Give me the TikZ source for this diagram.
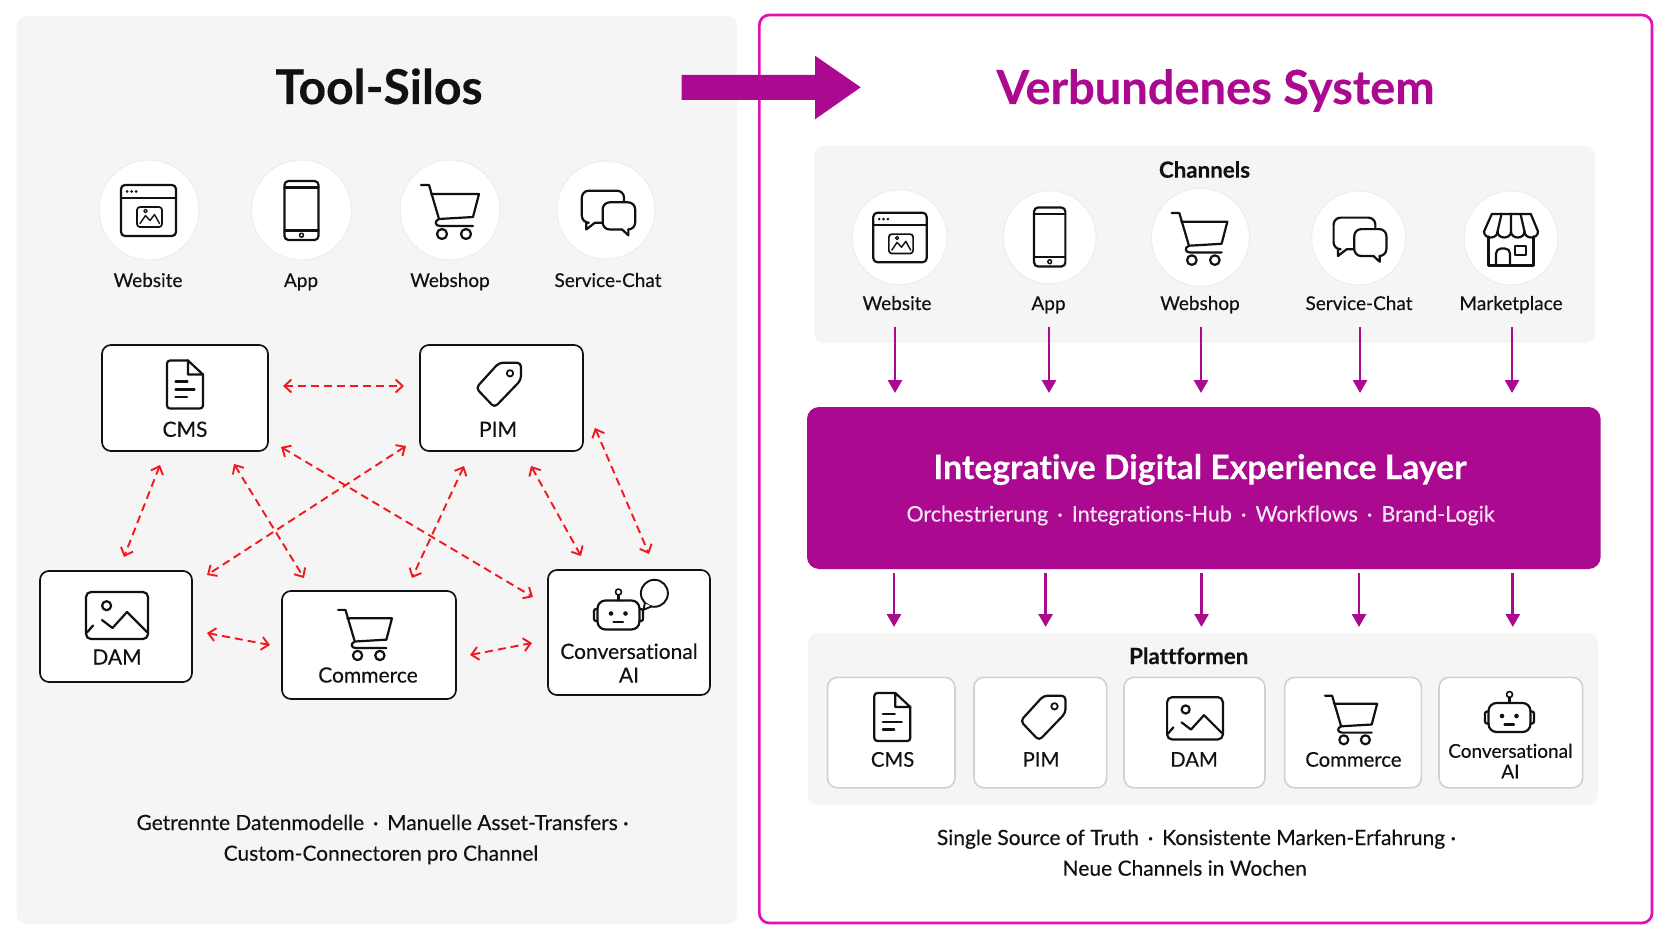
\documentclass[tikz,border=0pt]{standalone}
\usepackage{fontspec}
\setmainfont{Lato}[FakeBold=0.3,Ligatures=NoCommon]
\usepackage{tikz}
\usetikzlibrary{positioning,arrows.meta}
\definecolor{berry}{HTML}{AB0990}
\definecolor{framepink}{HTML}{E010B4}
\definecolor{panelgray}{HTML}{F5F5F6}
\definecolor{ringgray}{HTML}{EDEDEF}
\definecolor{ink}{HTML}{111114}
\definecolor{linkred}{HTML}{F01A1E}
\tikzstyle{panel} = [rectangle, fill=panelgray, rounded corners=10, inner sep=0, outer sep=0]
\tikzstyle{outline} = [rectangle, draw=framepink, line width=2.7, rounded corners=10, inner sep=0, outer sep=0]
\tikzstyle{layerbox} = [rectangle, fill=berry, rounded corners=12, inner sep=0, outer sep=0]
\tikzstyle{round} = [circle, fill=white, draw=ringgray, line width=1, inner sep=0, outer sep=0]
\tikzstyle{toolbox} = [rectangle, fill=white, draw=ink, line width=1.7, rounded corners=9, inner sep=0, outer sep=0]
\tikzstyle{platbox} = [rectangle, fill=white, draw=black!18, line width=1.6, rounded corners=10, inner sep=0, outer sep=0]
\tikzstyle{bigtitle} = [anchor=base, inner sep=0, font=\fontsize{47}{52}\selectfont\bfseries]
\tikzstyle{subhead} = [anchor=base, inner sep=0, text=ink, font=\fontsize{22.3}{26}\selectfont\bfseries]
\tikzstyle{itemtext} = [anchor=base, inner sep=0, text=ink, font=\fontsize{19}{24}\selectfont]
\tikzstyle{platlabel} = [anchor=base, inner sep=0, text=ink, font=\fontsize{20.3}{24}\selectfont]
\tikzstyle{boxtext} = [inner sep=0, text=ink, align=center, font=\fontsize{21}{23.7}\selectfont]
\tikzstyle{notetext} = [anchor=base, inner sep=0, text=ink, font=\fontsize{20.9}{26}\selectfont]
\tikzstyle{link} = [draw=linkred, line width=1.9, dash pattern=on 8 off 5, {Straight Barb[length=7,width=13]}-{Straight Barb[length=7,width=13]}]
\tikzstyle{flow} = [draw=berry, line width=2.8, -{Triangle[length=13,width=14]}]
\tikzstyle{iconline} = [draw=ink, line width=2.2, line join=round, line cap=round]
\tikzset{
	siteicon/.pic={
		\draw[iconline, rounded corners=4] (-27.5,-25.5) rectangle (27.5,25.5);
		\draw[iconline] (-27.5,-12.5) -- (27.5,-12.5);
		\fill[ink] (-21.5,-19) circle (1.5) (-17,-19) circle (1.5) (-12.5,-19) circle (1.5);
		\draw[iconline, line width=1.7, rounded corners=3] (-11.5,-3.5) rectangle (13.5,16.5);
		\draw[iconline, line width=1.4] (-8.5,13) -- (-3,5) -- (1.5,10) -- (6,4) -- (11,13);
		\draw[iconline, line width=1.2] (-3,0.5) circle (1.7);
	},
	phoneicon/.pic={
		\draw[iconline, rounded corners=4] (-17,-29.5) rectangle (17,29.5);
		\draw[iconline] (-17,-23) -- (17,-23) (-17,20) -- (17,20);
		\draw[iconline, line width=1.5] (0,24.7) circle (2);
	},
	carticon/.pic={
		\draw[iconline] (-29,-27) -- (-21,-27) -- (-11,7) (-19,-18) -- (29,-18) -- (23,5) -- (-11,7) .. controls (-16,9) and (-15,14) .. (-10,14) -- (23,14);
		\draw[iconline] (-8,22) circle (5) (16,22) circle (5);
	},
	chaticon/.pic={
		\draw[iconline, rounded corners=7] (-23,10) -- (-27.5,10) -- (-27.5,-23) -- (16,-23) -- (16,10) -- (-14,10);
		\draw[iconline] (-23,10) -- (-23,17) -- (-14,10);
		\draw[iconline, fill=white, rounded corners=7] (14,17) -- (-6,17) -- (-6,-11) -- (27.5,-11) -- (27.5,17) -- (20.5,17);
		\draw[iconline] (14,17) -- (20.5,23) -- (20.5,17);
	},
	storeicon/.pic={
		\draw[iconline] (-19.2,-25.5) -- (19.8,-25.5) -- (27,-8) .. controls (27,0) and (13.5,0) .. (13.5,-8) .. controls (13.5,0) and (0,0) .. (0,-8) .. controls (0,0) and (-13.5,0) .. (-13.5,-8) .. controls (-13.5,0) and (-27,0) .. (-27,-8) -- cycle;
		\draw[iconline] (-9.5,-25.5) -- (-13.5,-8) (0,-25.5) -- (0,-8) (9.5,-25.5) -- (13.5,-8);
		\draw[iconline] (-22.5,-3) -- (-22.5,26) -- (22.5,26) -- (22.5,-3);
		\draw[iconline, rounded corners=5] (-15,26) -- (-15,9) -- (-1,9) -- (-1,26);
		\draw[iconline] (4,6.5) rectangle (15,15.5);
	},
	docicon/.pic={
		\draw[iconline, rounded corners=3] (3,-24) -- (-18,-24) -- (-18,24) -- (18,24) -- (18,-10);
		\draw[iconline] (3,-24) -- (18,-10) (3,-24) -- (3,-10) -- (18,-10);
		\draw[iconline] (-9.5,-3) -- (2.5,-3) (-9.5,5) -- (9.5,5) (-9.5,12.5) -- (2,12.5);
	},
	tagicon/.pic={
		\draw[iconline, rounded corners=4] (1,-22.3) -- (23,-22.3) -- (23,-5) -- (-3.5,22.5) -- (-22,3) -- cycle;
		\draw[iconline, line width=1.8] (12,-11.7) circle (3.2);
	},
	imageicon/.pic={
		\draw[iconline, rounded corners=5] (-31,-23.5) rectangle (31,23.5);
		\draw[iconline] (-10.4,-9.8) circle (4.5);
		\draw[iconline] (-15,4.5) -- (-4.5,12.5) -- (10,-3.5) -- (30,16.5) (-30,17) -- (-24,10);
	},
	roboticon/.pic={
		\draw[iconline, rounded corners=8] (-21,-14.5) rectangle (21,14.5);
		\draw[iconline, rounded corners=2] (-21,-6) -- (-24.5,-6) -- (-24.5,6) -- (-21,6) (21,-6) -- (24.5,-6) -- (24.5,6) -- (21,6);
		\draw[iconline] (0,-14.5) -- (0,-20);
		\draw[iconline, line width=1.6] (0,-23) circle (3);
		\fill[ink] (-7.5,-1.5) circle (2.3) (7,-1.5) circle (2.3);
		\draw[iconline] (-5,7) -- (4.5,7);
	},
	speechicon/.pic={
		\draw[iconline, line width=1.9] (0,0) circle (13.5);
		\draw[iconline, line width=1.9, fill=white] (-9.5,10) -- (-11,16.5) -- (-3,13.2);
	}
}
\begin{document}
\begin{tikzpicture}[x=1pt, y=-1pt]
	\useasboundingbox (0,0) rectangle (1672,941);
	% left side
	\node[panel, minimum width=720.5, minimum height=908] (leftpanel) at (376.75,470) {};
	\node[bigtitle, text=ink, font=\fontsize{48}{52}\selectfont\bfseries] (lefttitle) at (379,104) {Tool-Silos};
	\node[round, minimum size=100] (lweb) at (149,210) {};
	\node[round, minimum size=100] (lapp) at (301.5,210) {};
	\node[round, minimum size=100] (lshop) at (450,210) {};
	\node[round, minimum size=98] (lchat) at (606,210) {};
	\pic at (148.5,210.5) {siteicon};
	\pic at (301.5,210.5) {phoneicon};
	\pic at (450,212) {carticon};
	\pic[scale=.97] at (608.5,213) {chaticon};
	\node[itemtext] (lwebtext) at (148,287) {Website};
	\node[itemtext] (lapptext) at (301,287) {App};
	\node[itemtext] (lshoptext) at (450,287) {Webshop};
	\node[itemtext] (lchattext) at (608,287) {Service-Chat};
	\node[toolbox, minimum width=166, minimum height=106] (cms) at (185,398) {};
	\node[toolbox, minimum width=163, minimum height=106] (pim) at (501.5,398) {};
	\node[toolbox, minimum width=152, minimum height=111] (dam) at (116,626.5) {};
	\node[toolbox, minimum width=174, minimum height=108] (commerce) at (369,645) {};
	\node[toolbox, minimum width=162, minimum height=125] (conv) at (629,632.5) {};
	\pic at (185,384.5) {docicon};
	\pic at (498,385) {tagicon};
	\pic at (117,615.5) {imageicon};
	\pic[scale=.93] at (365,635) {carticon};
	\pic at (618.5,615) {roboticon};
	\pic at (654.4,593.3) {speechicon};
	\node[boxtext] (cmstext) at (185,429.3) {CMS};
	\node[boxtext] (pimtext) at (498,429.3) {PIM};
	\node[boxtext] (damtext) at (117,657) {DAM};
	\node[boxtext] (commercetext) at (368,675) {Commerce};
	\node[boxtext] (convtext) at (629,663) {Conversational\\AI};
	\draw[link] ([shift={(98,-12)}]cms.center) -- ([shift={(-97.5,-12)}]pim.center);
	\draw[link] ([shift={(-25,67)}]cms.center) -- ([shift={(8,-69.5)}]dam.center);
	\draw[link] ([shift={(49,66)}]cms.center) -- ([shift={(-65,-67)}]commerce.center);
	\draw[link] ([shift={(96,49)}]cms.center) -- ([shift={(-96,-35.5)}]conv.center);
	\draw[link] ([shift={(-95.5,48)}]pim.center) -- ([shift={(91,-51.5)}]dam.center);
	\draw[link] ([shift={(-37.5,68)}]pim.center) -- ([shift={(43,-67)}]commerce.center);
	\draw[link] ([shift={(29.5,68)}]pim.center) -- ([shift={(-48,-76.5)}]conv.center);
	\draw[link] ([shift={(93.5,30)}]pim.center) -- ([shift={(20,-78.5)}]conv.center);
	\draw[link] ([shift={(91,6.5)}]dam.center) -- ([shift={(-99,0)}]commerce.center);
	\draw[link] ([shift={(101,10)}]commerce.center) -- ([shift={(-97,10.5)}]conv.center);
	\node[notetext] (leftnote) at (382.5,830) {Getrennte Datenmodelle\, ·\, Manuelle Asset-Transfers ·};
	\node[notetext] (leftnotetwo) at (381,860.7) {Custom-Connectoren pro Channel};
	% right side
	\node[outline, minimum width=892.7, minimum height=908] (rightframe) at (1205.7,469) {};
	\fill[berry] (681.7,75) -- (815,75) -- (815,55.7) -- (860.7,87.3) -- (815,119.3) -- (815,100) -- (681.7,100) -- cycle;
	\node[bigtitle, text=berry] (righttitle) at (1215.5,104) {Verbundenes System};
	\node[panel, minimum width=781, minimum height=197] (chpanel) at (1204.5,244.5) {};
	\node[subhead] (chhead) at (1204.5,177.7) {Channels};
	\node[round, minimum size=95] (chweb) at (899.6,237.3) {};
	\node[round, minimum size=93] (chapp) at (1049.7,237.3) {};
	\node[round, minimum size=98] (chshop) at (1200.4,237.3) {};
	\node[round, minimum size=94] (chchat) at (1358.6,238) {};
	\node[round, minimum size=94] (chmarket) at (1511,238) {};
	\pic[scale=.97] at (900,237.5) {siteicon};
	\pic[xscale=.92] at (1049.7,237) {phoneicon};
	\pic[scale=.96] at (1199.5,239) {carticon};
	\pic[scale=.96] at (1360,239.7) {chaticon};
	\pic at (1511,239.5) {storeicon};
	\node[itemtext] (chwebtext) at (897,310) {Website};
	\node[itemtext] (chapptext) at (1048.5,310) {App};
	\node[itemtext] (chshoptext) at (1200,310) {Webshop};
	\node[itemtext] (chchattext) at (1359,310) {Service-Chat};
	\node[itemtext] (chmarkettext) at (1511,310) {Marketplace};
	\node[layerbox, minimum width=793.6, minimum height=162] (layer) at (1203.8,488) {};
	\node[bigtitle, text=white, font=\fontsize{33.7}{40}\selectfont\bfseries] (layertitle) at (1200,479) {Integrative Digital Experience Layer};
	\node[anchor=base, inner sep=0, text=white!90!berry, font=\fontsize{21.4}{25}\selectfont] (layersub) at (1200.5,521.5) {Orchestrierung\, ·\, Integrations-Hub\, ·\, Workflows\, ·\, Brand-Logik};
	\coordinate (inweb) at (895,327);
	\coordinate (inapp) at (1049,327);
	\coordinate (inshop) at (1201,327);
	\coordinate (inchat) at (1360,327);
	\coordinate (inmarket) at (1512,327);
	\draw[flow, shorten >=14] (inweb) -- (inweb |- layer.north);
	\draw[flow, shorten >=14] (inapp) -- (inapp |- layer.north);
	\draw[flow, shorten >=14] (inshop) -- (inshop |- layer.north);
	\draw[flow, shorten >=14] (inchat) -- (inchat |- layer.north);
	\draw[flow, shorten >=14] (inmarket) -- (inmarket |- layer.north);
	\node[panel, minimum width=789.7, minimum height=172.3] (platpanel) at (1202.9,718.9) {};
	\node[subhead] (plathead) at (1188.7,664) {Plattformen};
	\node[platbox, minimum width=127.5, minimum height=110.5] (pcms) at (891.2,732.6) {};
	\node[platbox, minimum width=132.7, minimum height=110.5] (ppim) at (1040.3,732.6) {};
	\node[platbox, minimum width=141, minimum height=110.5] (pdam) at (1194.5,732.6) {};
	\node[platbox, minimum width=136.7, minimum height=110.5] (pcommerce) at (1353,732.6) {};
	\node[platbox, minimum width=143.6, minimum height=110.5] (pconv) at (1510.8,732.6) {};
	\pic at (892.3,717) {docicon};
	\pic at (1042.5,718) {tagicon};
	\pic[scale=.9] at (1195,718.3) {imageicon};
	\pic[scale=.9] at (1351,720) {carticon};
	\pic at (1509.5,717.5) {roboticon};
	\node[platlabel] (pcmstext) at (892.6,766.7) {CMS};
	\node[platlabel] (ppimtext) at (1041,766.7) {PIM};
	\node[platlabel] (pdamtext) at (1194,766.7) {DAM};
	\node[platlabel] (pcommercetext) at (1353.4,766.7) {Commerce};
	\node[boxtext, font=\fontsize{19}{20.5}\selectfont] (pconvtext) at (1510.4,761) {Conversational\\AI};
	\coordinate (outcms) at (894,627);
	\coordinate (outpim) at (1045.6,627);
	\coordinate (outdam) at (1201.5,627);
	\coordinate (outcommerce) at (1359,627);
	\coordinate (outconv) at (1512.8,627);
	\draw[flow, shorten <=4] (outcms |- layer.south) -- (outcms);
	\draw[flow, shorten <=4] (outpim |- layer.south) -- (outpim);
	\draw[flow, shorten <=4] (outdam |- layer.south) -- (outdam);
	\draw[flow, shorten <=4] (outcommerce |- layer.south) -- (outcommerce);
	\draw[flow, shorten <=4] (outconv |- layer.south) -- (outconv);
	\node[notetext, font=\fontsize{21}{26}\selectfont] (rightnote) at (1196.4,845) {Single Source of Truth\, ·\, Konsistente Marken-Erfahrung ·};
	\node[notetext, font=\fontsize{21}{26}\selectfont] (rightnotetwo) at (1184.7,875.7) {Neue Channels in Wochen};
\end{tikzpicture}
\end{document}
